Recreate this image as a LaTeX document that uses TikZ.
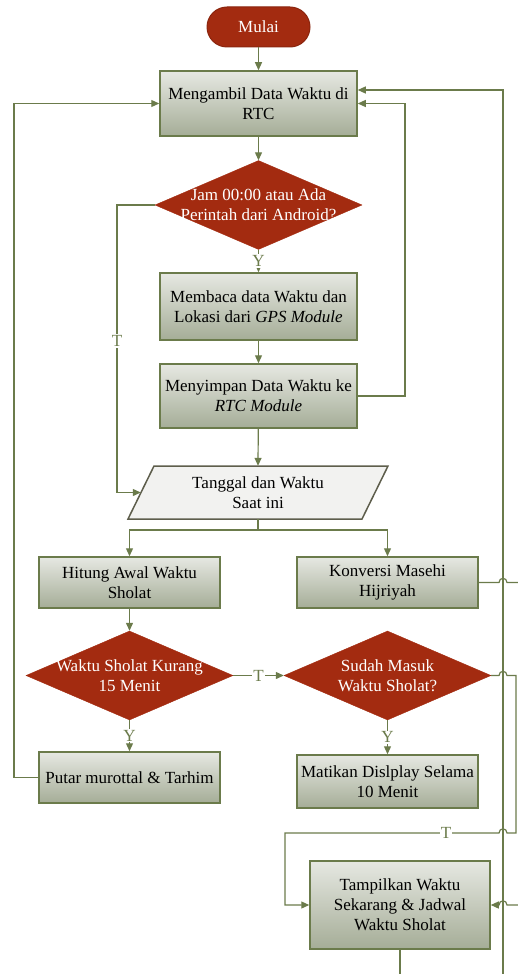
\documentclass[tikz,border=0pt]{standalone}
\usepackage{fontspec}
\setmainfont{Liberation Serif}
\usetikzlibrary{shapes.geometric,arrows.meta,calc}
\definecolor{lg}{HTML}{6B7B4B}
\definecolor{rd}{HTML}{A32B10}
\definecolor{gtop}{HTML}{E6E8E2}
\definecolor{gbot}{HTML}{A5AD97}
\definecolor{pfill}{HTML}{F2F2F0}
\definecolor{pborder}{HTML}{5E5E4C}
\begin{document}
\begin{tikzpicture}[x=1pt,y=-1pt,
 every node/.style={font=\fontsize{17}{20}\selectfont},
 procbox/.style={rectangle, draw=lg, line width=1.5pt, top color=gtop, bottom color=gbot, align=center, inner sep=1pt},
 decision/.style={diamond, fill=rd, draw=rd, inner sep=0pt, minimum width=207pt, minimum height=89pt},
 dtext/.style={text=white, align=center},
 conn/.style={draw=lg, line width=1.2pt},
 arr/.style={conn, -{Triangle[length=8pt,width=7pt]}},
 lbl/.style={fill=white, text=lg, inner sep=1pt}]
\useasboundingbox (0,0) rectangle (518,974);
\clip (0,0) rectangle (518,974);

% nodes
\node[fill=rd, draw=rd!85!black, line width=1pt, rounded corners=20pt, minimum width=103pt, minimum height=40pt, text=white] (start) at (258.5,27) {Mulai};
\node[procbox, minimum width=197pt, minimum height=65pt] (b1) at (258.5,103.5) {Mengambil Data Waktu di\\RTC};
\node[decision, label={[dtext]center:{Jam 00:00 atau Ada\\Perintah dari Android?}}] (d1) at (258.5,205) {};
\node[procbox, minimum width=197pt, minimum height=67pt] (b2) at (258.5,306.5) {Membaca data Waktu dan\\Lokasi dari \textit{GPS Module}};
\node[procbox, minimum width=197pt, minimum height=64pt] (b3) at (258.5,396) {Menyimpan Data Waktu ke\\\textit{RTC Module}};
\draw[draw=pborder, fill=pfill, line width=1.5pt] (154,466) -- (388,466) -- (362,519) -- (128,519) -- cycle;
\node[minimum width=234pt, minimum height=53pt, inner sep=0pt, align=center] (p) at (258,492.5) {Tanggal dan Waktu\\Saat ini};
\node[procbox, minimum width=181pt, minimum height=51pt] (b4) at (129.5,582.5) {Hitung Awal Waktu\\Sholat};
\node[procbox, minimum width=181pt, minimum height=51pt] (b5) at (387.5,582.5) {Konversi Masehi\\Hijriyah};
\node[decision, label={[dtext]center:{Waktu Sholat Kurang\\15 Menit}}] (d2) at (129.5,675.5) {};
\node[decision, label={[dtext]center:{Sudah Masuk\\Waktu Sholat?}}] (d3) at (387.5,675.5) {};
\node[procbox, minimum width=181pt, minimum height=51pt] (b6) at (129.5,777.5) {Putar murottal \& Tarhim};
\node[procbox, minimum width=181pt, minimum height=53pt] (b7) at (387.5,781.5) {Matikan Dislplay Selama\\10 Menit};
\node[procbox, minimum width=180pt, minimum height=88pt] (b8) at (400,905) {Tampilkan Waktu\\Sekarang \& Jadwal\\Waktu Sholat};

\coordinate (r90) at (503,90);
\coordinate (split) at (258,530);

% connectors
\draw[arr] (start) -- (b1);
\draw[arr] (b1) -- (d1);
\draw[arr] (d1) -- node[lbl] (y1) {Y} (b2);
\draw[arr] (b2) -- (b3);
\draw[arr] (b3) -- (p.north);
\draw[arr] (d1.west) -- (117,205) -- (117,492.5) -- (p.west);
\node[lbl] (t1) at (117,341) {T};
\draw[arr] (b3.east) -- (405,396) -- (405,103.5) -- (b1.east);
\draw[conn] (p.south) -- (split);
\draw[arr] (split) -- (b4.north |- split) -- (b4.north);
\draw[arr] (split) -- (b5.north |- split) -- (b5.north);
\draw[arr] (b4) -- (d2);
\draw[arr] (d2.east) -- node[lbl] (t2) {T} (d3.west);
\draw[arr] (d2) -- node[lbl] (y2) {Y} (b6);
\draw[arr] (d3) -- node[lbl] (y3) {Y} (b7);
\draw[arr] (b6.west) -- (14,777.5) -- (14,103.5) -- (b1.west);
\draw[arr] (b8.south) -- (400,990) -- (503,990) -- (r90) -- (b1.east |- r90);
\draw[conn] (b5.east) -- (499,582.5) .. controls (499,577) and (507,577) .. (507,582.5) -- (520,582.5);
\draw[arr] (d3.east) -- (499,675.5) .. controls (499,670) and (507,670) .. (507,675.5) -- (516,675.5) -- (516,833) -- (507,833) .. controls (507,827.5) and (499,827.5) .. (499,833) -- (285,833) -- (285,905) -- (b8.west);
\node[lbl] (t3) at (446,833) {T};
\draw[arr] (520,905) -- (507,905) .. controls (507,899.5) and (499,899.5) .. (499,905) -- (b8.east);
\end{tikzpicture}
\end{document}
